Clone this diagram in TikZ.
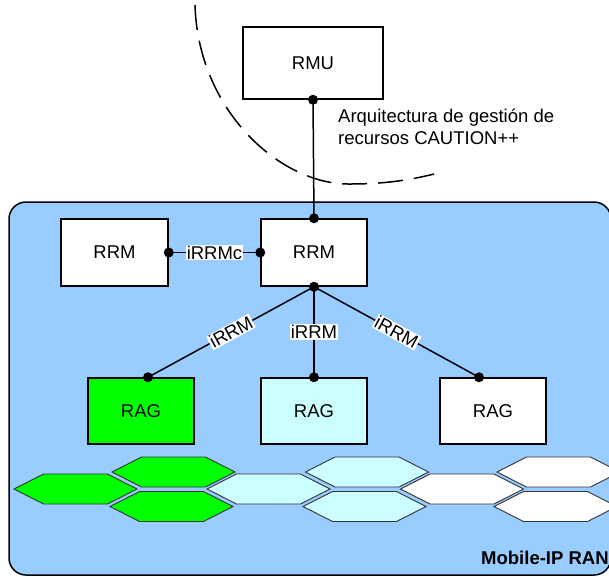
\documentclass[tikz,border=0pt]{standalone}
\usepackage{fontspec}
\setmainfont{Liberation Sans}
\definecolor{bgblue}{HTML}{99CCFF}
\definecolor{ragcyan}{HTML}{CCFFFF}
\definecolor{raggreen}{HTML}{00FF00}
\definecolor{hexline}{HTML}{333333}
\begin{document}
\begin{tikzpicture}[x=1pt,y=-1pt,
  font=\fontsize{18.5}{22}\selectfont,
  box/.style={draw=black,line width=1.5pt,fill=white,minimum width=106pt,minimum height=66pt,inner sep=0pt},
  conn/.style={line width=1.5pt},
  lbl/.style={fill=white,inner sep=1pt},
  dotc/.style={circle,fill=black,inner sep=0pt,minimum size=10pt},
  hexa/.pic={\draw[pic actions] (-61.5,0) -- (-32,-15) -- (32,-15) -- (61.5,0) -- (32,15) -- (-32,15) -- cycle;},
  cell/.style={draw=hexline,line width=0.9pt}
]
\useasboundingbox (0,0) rectangle (609,576);
\clip (0,0) rectangle (609,576);
\fill[white] (0,0) rectangle (609,576);

% dashed boundary of the management architecture
\draw[line width=1.5pt,dash pattern=on 25pt off 11pt]
  (195,5) .. controls (198,110) and (280,185) .. (350,184)
  .. controls (385,184) and (410,180) .. (434,174);

% RAN area
\draw[fill=bgblue,line width=1.5pt,rounded corners=17pt] (9,202) rectangle (611,575);

% boxes
\node[box,minimum width=140pt,minimum height=72pt] (rmu) at (313,63) {RMU};
\node[box,minimum width=107pt,minimum height=67pt] (rrmL) at (114.5,252.5) {RRM};
\node[box,minimum height=67pt] (rrmC) at (314,252.5) {RRM};
\node[box,fill=raggreen] (ragL) at (141,411) {RAG};
\node[box,fill=ragcyan] (ragM) at (314,411) {RAG};
\node[box] (ragR) at (493,411) {RAG};

\node[anchor=north west,align=left,inner sep=0pt] (arq) at (338,109)
  {Arquitectura de gestión de\\recursos CAUTION++};

% attachment points
\coordinate (pL) at ([xshift=7pt]ragL.north);
\coordinate (pR) at ([xshift=-14pt]ragR.north);

% connectors
\draw[conn] (rmu.south) -- (rrmC.north);
\draw[conn] (rrmL.east) -- node[lbl]{iRRMc} (rrmC.west);
\draw[conn] (rrmC.south) -- node[lbl,sloped]{iRRM} (pL);
\draw[conn] (rrmC.south) -- node[lbl]{iRRM} (ragM.north);
\draw[conn] (rrmC.south) -- node[lbl,sloped]{iRRM} (pR);

% dots
\foreach \p in {rmu.south,rrmC.north,rrmL.east,rrmC.west,rrmC.south,pL,ragM.north,pR}
  \node[dotc] at (\p) {};

% cells
\pic[cell,fill=raggreen] at (75.5,489) {hexa};
\pic[cell,fill=raggreen] at (173.5,472) {hexa};
\pic[cell,fill=raggreen] at (171.5,506.5) {hexa};
\pic[cell,fill=ragcyan] at (268.5,489) {hexa};
\pic[cell,fill=ragcyan] at (367,472) {hexa};
\pic[cell,fill=ragcyan] at (364.5,506.5) {hexa};
\pic[cell,fill=white] at (462,489) {hexa};
\pic[cell,fill=white] at (558.5,472) {hexa};
\pic[cell,fill=white] at (555.5,506.5) {hexa};

\node[anchor=south west,inner sep=0pt,font=\fontsize{18.5}{22}\selectfont\bfseries] (ran) at (481,565) {Mobile-IP RAN};
\end{tikzpicture}
\end{document}
